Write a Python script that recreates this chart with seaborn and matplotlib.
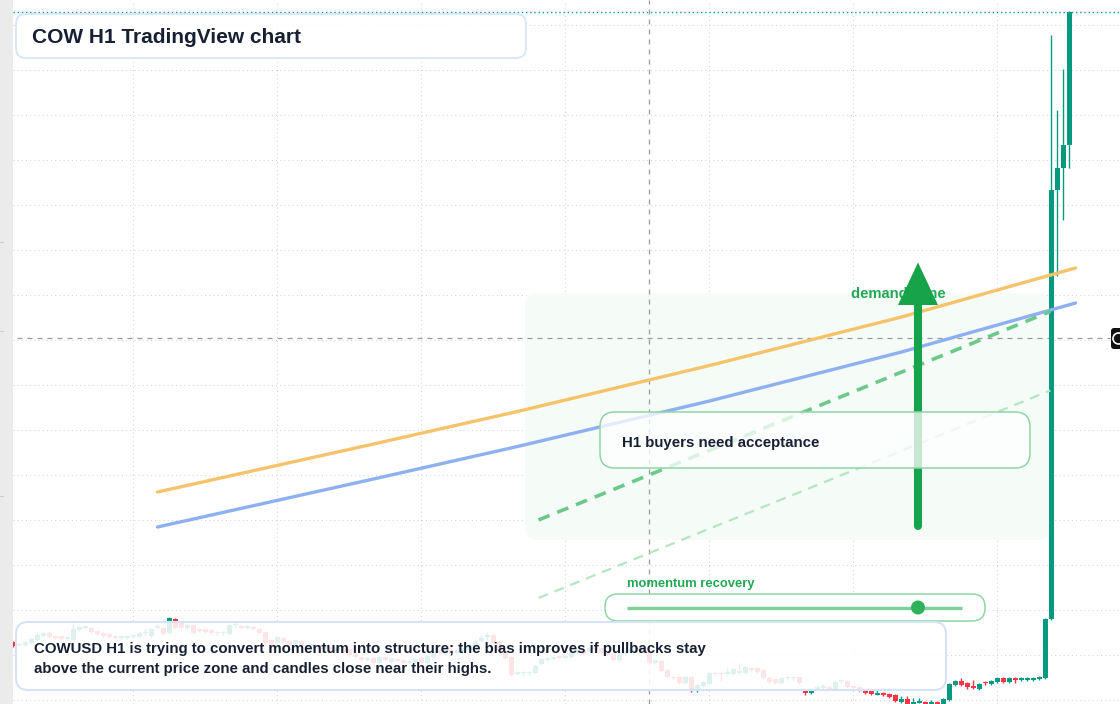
import numpy as np
import pandas as pd
import matplotlib
matplotlib.use("Agg")
import matplotlib.pyplot as plt
import seaborn as sns
from matplotlib.patches import FancyBboxPatch, Rectangle, Circle
from matplotlib.transforms import Affine2D

# ---------------- data (COWUSD, 1h candles) ----------------
opens = [
    .3116, .3110, .3110, .3114, .3120, .3128, .3134, .3128, .3128, .3122,
    .3120, .3140, .3145, .3144, .3138, .3134, .3132, .3128, .3125, .3125,
    .3126, .3126, .3133, .3128, .3145, .3144, .3134, .3162, .3154, .3144,
    .3150, .3142, .3142, .3140, .3133, .3133, .3132, .3149, .3148, .3145,
    .3146, .3142, .3136, .3120, .3114, .3124, .3118, .3112, .3118, .3110,
    .3106, .3110, .3103, .3106, .3098, .3104, .3102, .3092, .3086, .3081,
    .3084, .3074, .3086, .3076, .3082, .3080, .3075, .3076, .3084, .3074,
    .3086, .3100, .3092, .3100, .3094, .3098, .3100, .3108, .3118, .3127,
    .3130, .3116, .3096, .3086, .3052, .3053, .3053, .3054, .3072, .3081,
    .3082, .3087, .3085, .3086, .3094, .3100, .3096, .3106, .3104, .3098,
    .3094, .3080, .3092, .3096, .3104, .3100, .3096, .3074, .3078, .3060,
    .3046, .3046, .3034, .3046, .3018, .3028, .3032, .3054, .3054, .3052,
    .3052, .3055, .3054, .3064, .3064, .3060, .3044, .3042, .3034, .3043,
    .3043, .3046, .3022, .3014, .3023, .3025, .3026, .3022, .3037, .3038,
    .3028, .3026, .3020, .3018, .3011, .3014, .3012, .3010, .2996, .3002,
    .2993, .2995, .2996, .2992, .2996, .2992, .3000, .3030, .3038, .3034,
    .3028, .3022, .3035, .3032, .3036, .3044, .3036, .3043, .3041, .3041,
    .3041, .3042, .3044, .3162, .4020, .4064, .4110,
]
closes = [
    .3108, .3112, .3116, .3122, .3130, .3134, .3126, .3124, .3122, .3126,
    .3142, .3146, .3147, .3136, .3132, .3128, .3126, .3124, .3127, .3127,
    .3130, .3134, .3135, .3142, .3147, .3132, .3164, .3144, .3144, .3150,
    .3134, .3138, .3136, .3134, .3135, .3135, .3150, .3151, .3144, .3147,
    .3142, .3134, .3114, .3110, .3126, .3116, .3110, .3120, .3108, .3104,
    .3112, .3102, .3105, .3098, .3104, .3096, .3090, .3086, .3080, .3083,
    .3074, .3086, .3080, .3084, .3078, .3074, .3077, .3082, .3074, .3088,
    .3096, .3094, .3100, .3094, .3100, .3104, .3110, .3118, .3124, .3129,
    .3114, .3100, .3084, .3050, .3056, .3055, .3055, .3068, .3082, .3083,
    .3086, .3085, .3087, .3096, .3100, .3092, .3104, .3100, .3094, .3090,
    .3080, .3094, .3098, .3104, .3098, .3096, .3074, .3080, .3058, .3046,
    .3044, .3034, .3046, .3018, .3030, .3036, .3054, .3052, .3052, .3056,
    .3062, .3057, .3066, .3060, .3056, .3044, .3036, .3034, .3044, .3045,
    .3045, .3034, .3014, .3020, .3025, .3027, .3022, .3036, .3039, .3026,
    .3024, .3020, .3014, .3012, .3013, .3010, .3006, .2998, .3002, .2992,
    .2995, .2997, .2992, .2996, .2992, .3002, .3032, .3038, .3030, .3026,
    .3024, .3032, .3033, .3038, .3044, .3036, .3044, .3041, .3043, .3043,
    .3043, .3046, .3162, .4020, .4064, .4110, .4376,
]
highs = [
    .3118, .3114, .3118, .3124, .3136, .3136, .3136, .3130, .3130, .3128,
    .3154, .3148, .3150, .3146, .3140, .3136, .3134, .3130, .3130, .3130,
    .3132, .3136, .3142, .3144, .3152, .3146, .3166, .3164, .3158, .3152,
    .3152, .3144, .3144, .3142, .3138, .3138, .3152, .3156, .3150, .3150,
    .3148, .3144, .3138, .3122, .3128, .3126, .3120, .3122, .3120, .3112,
    .3114, .3112, .3108, .3108, .3106, .3106, .3104, .3094, .3088, .3086,
    .3086, .3088, .3088, .3086, .3084, .3082, .3080, .3084, .3086, .3090,
    .3098, .3102, .3102, .3102, .3102, .3106, .3112, .3120, .3130, .3136,
    .3132, .3118, .3098, .3088, .3058, .3058, .3058, .3070, .3084, .3086,
    .3088, .3090, .3090, .3098, .3102, .3102, .3106, .3108, .3106, .3100,
    .3096, .3096, .3100, .3106, .3106, .3102, .3098, .3082, .3080, .3062,
    .3048, .3048, .3048, .3048, .3032, .3038, .3056, .3056, .3056, .3064,
    .3064, .3074, .3068, .3066, .3066, .3062, .3046, .3044, .3046, .3048,
    .3048, .3048, .3024, .3022, .3030, .3032, .3028, .3040, .3042, .3040,
    .3030, .3028, .3022, .3020, .3020, .3016, .3014, .3012, .3008, .3008,
    .3004, .3004, .2998, .3000, .2998, .3004, .3034, .3040, .3044, .3036,
    .3040, .3034, .3038, .3040, .3046, .3046, .3046, .3046, .3046, .3046,
    .3046, .3048, .3164, .4330, .4180, .4262, .4378,
]
lows = [
    .3106, .3108, .3108, .3112, .3118, .3126, .3124, .3122, .3120, .3120,
    .3118, .3138, .3142, .3134, .3130, .3126, .3124, .3122, .3122, .3122,
    .3124, .3124, .3130, .3126, .3142, .3130, .3132, .3142, .3142, .3142,
    .3132, .3136, .3134, .3132, .3130, .3130, .3130, .3146, .3142, .3142,
    .3140, .3132, .3112, .3108, .3112, .3114, .3108, .3110, .3106, .3102,
    .3104, .3100, .3100, .3096, .3096, .3094, .3088, .3084, .3078, .3078,
    .3072, .3072, .3078, .3074, .3076, .3072, .3072, .3074, .3072, .3072,
    .3084, .3092, .3090, .3092, .3092, .3096, .3098, .3106, .3116, .3120,
    .3112, .3098, .3082, .3048, .3050, .3050, .3050, .3052, .3070, .3078,
    .3080, .3082, .3082, .3084, .3092, .3090, .3094, .3098, .3092, .3088,
    .3078, .3078, .3090, .3094, .3096, .3094, .3072, .3072, .3056, .3044,
    .3042, .3032, .3032, .3016, .3016, .3026, .3030, .3050, .3038, .3050,
    .3050, .3052, .3052, .3058, .3054, .3042, .3034, .3032, .3032, .3040,
    .3040, .3032, .3010, .3012, .3020, .3022, .3020, .3020, .3034, .3024,
    .3022, .3018, .3012, .3010, .3010, .3008, .3004, .2996, .2994, .2992,
    .2992, .2993, .2992, .2992, .2992, .2992, .2998, .3028, .3028, .3022,
    .3022, .3020, .3030, .3030, .3034, .3034, .3034, .3034, .3038, .3038,
    .3038, .3040, .3042, .3160, .3848, .3960, .4064,
]

# moving averages (read at a few candle indices)
ma_index = [24, 60, 84, 116, 148, 177]
ma_slow = [0.3416, 0.3512, 0.3577, 0.3669, 0.3766, 0.3864]   # orange
ma_fast = [0.3346, 0.3442, 0.3507, 0.3598, 0.3696, 0.3794]   # blue

# trend channel (dashed)
channel_index = [87.5, 172.8]
channel_upper = [0.3360, 0.3777]
channel_lower = [0.3204, 0.3619]

# demand zone
zone_index = [85.25, 172.75]
zone_price = [0.3320, 0.3814]

# arrow (demand push)
arrow_index = 150.75
arrow_from = 0.3348
arrow_base = 0.3790
arrow_tip = 0.3875

crosshair_index = 105.9
crosshair_price = 0.3724

title = "COW H1 TradingView chart"
note_lines = ["COWUSD H1 is trying to convert momentum into structure; the bias improves if pullbacks stay",
              "above the current price zone and candles close near their highs."]
callout = "H1 buyers need acceptance"
zone_label = "demand zone"
slider_label = "momentum recovery"

# ---------------- style ----------------
sns.set_theme(style="white")
plt.rcParams['font.family'] = ['Liberation Sans', 'DejaVu Sans']

UP = "#089981"
DOWN = "#f23645"
DARK = "#172033"
GREEN_TXT = "#22a854"

W, H = 1120, 704
fig = plt.figure(figsize=(W / 100, H / 100), dpi=100)
fig.patch.set_facecolor("white")
ax = fig.add_axes([13 / W, 0, 1 - 13 / W, 1])
ax.set_facecolor("white")
for s in ax.spines.values():
    s.set_visible(False)

# pixel transform (image coords, y down) for UI overlays
T = Affine2D().scale(1 / W, -1 / H).translate(0, 1) + fig.transFigure

df = pd.DataFrame({"open": opens, "high": highs, "low": lows, "close": closes})
df["i"] = np.arange(len(df))
df["up"] = df["close"] >= df["open"]

ax.set_xlim(-0.0833, 184.417)
ax.set_ylim(0.2992, 0.44)

# grid
for k in range(0, 17):
    ax.axhline(0.300 + 0.009 * k, color="#d4d4d4", lw=0.75, ls=(0, (1, 3)), zorder=0)
for gi in range(20, 185, 24):
    ax.axvline(gi, color="#d4d4d4", lw=0.75, ls=(0, (1, 3)), zorder=0)

# demand zone
zone = FancyBboxPatch((zone_index[0], zone_price[0]), zone_index[1] - zone_index[0],
                      zone_price[1] - zone_price[0],
                      boxstyle="round,pad=0,rounding_size=2", mutation_aspect=0.0012,
                      facecolor="#f5fcf7", edgecolor="none", zorder=0.5)
ax.add_patch(zone)

# crosshair
ax.axvline(crosshair_index, color="#9a9a9a", lw=0.9, ls=(0, (4, 4)), zorder=1)
ax.hlines(crosshair_price, -1, 182.75, color="#9a9a9a", lw=0.9, ls=(0, (4, 4)), zorder=1)

# candles
colors = np.where(df["up"], UP, DOWN)
ax.vlines(df["i"], df["low"], df["high"], colors=colors, lw=1.0, zorder=2)
body_h = np.maximum((df["close"] - df["open"]).abs(), 0.00022)
ax.bar(df["i"], body_h, bottom=np.minimum(df["open"], df["close"]), width=0.8,
       color=colors, edgecolor="none", zorder=2.1)

# last price line
ax.axhline(closes[-1], color=UP, lw=1.0, ls=(0, (1, 2)), zorder=1)

# moving averages
sns.lineplot(x=ma_index, y=ma_slow, ax=ax, color="#f6c36b", lw=2.4, zorder=3, sort=False)
sns.lineplot(x=ma_index, y=ma_fast, ax=ax, color="#8fb0f0", lw=2.4, zorder=3, sort=False)

# channel
ax.plot(channel_index, channel_upper, color="#6cc98b", lw=2.6, ls=(0, (3.3, 2.3)), zorder=3)
ax.plot(channel_index, channel_lower, color="#b6e5c4", lw=1.6, ls=(0, (4.5, 3.2)), zorder=3)

# demand zone label + arrow
ax.text(139.6, 0.3811, zone_label, color=GREEN_TXT, fontsize=10.6, fontweight="bold",
        va="center", ha="left", zorder=3.5)
ax.plot([arrow_index, arrow_index], [arrow_from, arrow_base + 0.001], color="#16a34a",
        lw=5.8, solid_capstyle="round", zorder=4)
ax.fill([arrow_index - 3.33, arrow_index + 3.33, arrow_index],
        [arrow_base, arrow_base, arrow_tip], color="#16a34a", zorder=4, lw=0)

# ---------------- UI overlays (pixel coords) ----------------
def box(x, y, w, h, r, fc, ec, lw, alpha=1.0, z=5):
    p = FancyBboxPatch((x, y), w, h, boxstyle=f"round,pad=0,rounding_size={r}",
                       transform=T, facecolor=fc, edgecolor=ec, lw=lw, zorder=z, clip_on=False)
    p.set_facecolor(matplotlib.colors.to_rgba(fc, alpha))
    ax.add_patch(p)
    return p

# left strip
ax.add_patch(Rectangle((0, 0), 13, H, transform=T, facecolor="#ebebeb", edgecolor="none",
                       zorder=6, clip_on=False))
for yy in [242, 331, 496]:
    ax.plot([0, 2.5], [yy, yy], transform=T, color="#cfcfcf", lw=0.8, zorder=6.5, clip_on=False)

# title box
box(16, 14, 510, 44, 10, "white", "#d6e3f7", 1.2, alpha=0.9)
ax.text(32, 37.5, title, transform=T, fontsize=15, fontweight="bold", color=DARK,
        va="center", ha="left", zorder=6)

# callout box
box(600, 412, 430, 56, 15, "white", "#8fd5a6", 1.1, alpha=0.76)
ax.text(622, 442.5, callout, transform=T, fontsize=10.8, fontweight="bold", color=DARK,
        va="center", ha="left", zorder=6)

# slider widget
ax.text(627, 584, slider_label, transform=T, fontsize=9.4, fontweight="bold",
        color=GREEN_TXT, va="center", ha="left", zorder=6)
box(605, 594, 380, 27, 13, "white", "#8fd5a6", 1.1, alpha=1.0)
ax.plot([627, 962], [607.5, 607.5], transform=T, color="#80cf9b", lw=2.4, zorder=6,
        solid_capstyle="butt", clip_on=False)
ax.add_patch(Circle((918, 607.5), 7, transform=T, facecolor="#2fb35a", edgecolor="none",
                    zorder=6.5, clip_on=False))

# bottom note box
box(16, 622, 930, 68, 12, "white", "#d6e3f7", 1.5, alpha=0.87)
ax.text(34, 649.5, note_lines[0], transform=T, fontsize=10.8, fontweight="bold", color=DARK,
        va="center", ha="left", zorder=6)
ax.text(34, 669.5, note_lines[1], transform=T, fontsize=10.8, fontweight="bold", color=DARK,
        va="center", ha="left", zorder=6)

# price scale tag (cut off at right edge)
box(1111, 328, 20, 21, 3, "#111111", "none", 0, alpha=1.0, z=7)
ax.add_patch(Circle((1118.5, 338.5), 5.5, transform=T, facecolor="none", edgecolor="white",
                    lw=1.2, zorder=7.5, clip_on=False))

ax.set_xticks([])
ax.set_yticks([])
ax.set_xlabel("")
ax.set_ylabel("")

fig.savefig("out.png", dpi=100, facecolor="white")
